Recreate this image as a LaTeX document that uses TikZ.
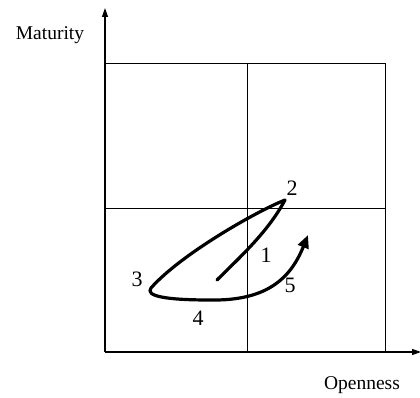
\documentclass[tikz,border=0pt]{standalone}
\usepackage{fontspec}
\setmainfont{Liberation Serif}
\usetikzlibrary{arrows.meta}
\begin{document}
\begin{tikzpicture}[x=1pt,y=-1pt,
  grid/.style={line width=1pt},
  axis/.style={line width=1.3pt,-{Triangle[length=9pt,width=6pt]}},
  curve/.style={line width=3.2pt,line cap=round,line join=round},
  lbl/.style={font=\fontsize{22}{24}\selectfont,inner sep=0pt},
  axlbl/.style={font=\fontsize{19.5}{22}\selectfont,inner sep=0pt}]
\useasboundingbox (0,0) rectangle (420,398);
\coordinate (O) at (105,352);
\coordinate (Ytop) at (105,8);
\coordinate (Xend) at (421,352);
\coordinate (TL) at (105,64);
\coordinate (TR) at (385,64);
\coordinate (BR) at (385,352);
\coordinate (ML) at (105,208);
\coordinate (MR) at (385,208);
\coordinate (MT) at (247,64);
\coordinate (MB) at (247,352);
\draw[grid] (TL) -- (TR) -- (BR);
\draw[grid] (ML) -- (MR);
\draw[grid] (MT) -- (MB);
\draw[axis] (O) -- (Ytop);
\draw[axis] (O) -- (Xend);
\node[axlbl] (mat) at (50,35) {Maturity};
\node[axlbl] (open) at (362,385) {Openness};
\coordinate (s) at (217,280);
\coordinate (p2) at (285,200);
\coordinate (p3) at (151,288);
\coordinate (p4) at (210,300);
\coordinate (e) at (308,235);
\draw[curve,-{Triangle[length=13pt,width=11pt]}] (s) .. controls (240,257) and (268,232) .. (p2)
  .. controls (255,212) and (180,255) .. (p3)
  .. controls (145,296) and (165,300) .. (p4)
  .. controls (265,301) and (290,280) .. (e);
\node[lbl] (n1) at (266,255) {1};
\node[lbl] (n2) at (292,188) {2};
\node[lbl] (n3) at (137,279) {3};
\node[lbl] (n4) at (198,318) {4};
\node[lbl] (n5) at (290,285) {5};
\end{tikzpicture}
\end{document}
